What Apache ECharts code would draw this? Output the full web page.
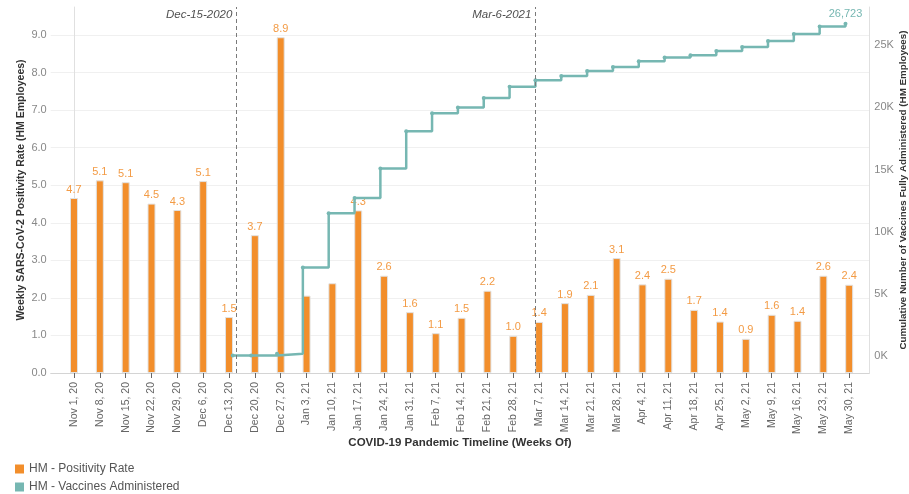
<!DOCTYPE html>
<html><head><meta charset="utf-8">
<script src="https://cdn.jsdelivr.net/npm/echarts@6/dist/echarts.min.js"></script>
<style>html,body{margin:0;padding:0;background:#fff}#c{width:909px;height:494px}</style>
</head><body><div id="c"></div>
<script>
// ---- data ----
const weeks = ['Nov 1, 20','Nov 8, 20','Nov 15, 20','Nov 22, 20','Nov 29, 20','Dec 6, 20','Dec 13, 20',
  'Dec 20, 20','Dec 27, 20','Jan 3, 21','Jan 10, 21','Jan 17, 21','Jan 24, 21','Jan 31, 21','Feb 7, 21',
  'Feb 14, 21','Feb 21, 21','Feb 28, 21','Mar 7, 21','Mar 14, 21','Mar 21, 21','Mar 28, 21','Apr 4, 21',
  'Apr 11, 21','Apr 18, 21','Apr 25, 21','May 2, 21','May 9, 21','May 16, 21','May 23, 21','May 30, 21'];
const positivity = [4.66,5.13,5.08,4.51,4.34,5.11,1.49,3.67,8.94,2.06,2.39,4.33,2.59,1.62,1.06,
  1.47,2.19,0.99,1.36,1.86,2.08,3.06,2.36,2.51,1.68,1.37,0.91,1.55,1.39,2.59,2.35];
const hiddenBarLabels = ['Jan 3, 21','Jan 10, 21'];
const vaccineDates = ['2020-12-14','2020-12-19','2020-12-26','2021-01-02','2021-01-09','2021-01-16',
  '2021-01-23','2021-01-30','2021-02-06','2021-02-13','2021-02-20','2021-02-27','2021-03-06','2021-03-13',
  '2021-03-20','2021-03-27','2021-04-03','2021-04-10','2021-04-17','2021-04-24','2021-05-01','2021-05-08',
  '2021-05-15','2021-05-22','2021-05-29'];
const vaccineTotals = [30,40,190,7120,11480,12720,15080,18090,19520,20000,20750,21670,22180,22520,
  22930,23250,23710,24010,24190,24540,24860,25350,25910,26500,26723];
const eventDates = ['2020-12-15','2021-03-06'];
const eventLabels = ['Dec-15-2020','Mar-6-2021'];
const leftTicks = [0,1,2,3,4,5,6,7,8,9];
const rightTicks = [0,5000,10000,15000,20000,25000];

// ---- helpers ----
const startMs = Date.UTC(2020,10,1);
const dayOf = s => (Date.parse(s + 'T00:00:00Z') - startMs) / 86400000;
const weekDays = weeks.map((w,i) => i*7);
const FONT = '"Liberation Sans", Arial, sans-serif';
const ORANGE = '#F28E2B', TEAL = '#76B7B2';

const chart = echarts.init(document.getElementById('c'), null, {renderer:'canvas'});
chart.setOption({
  animation:false,
  textStyle:{fontFamily:FONT},
  grid:{left:50.7, right:39.7, top:7, bottom:121, containLabel:false, outerBoundsMode:'none'},
  legend:{
    orient:'vertical', left:10, top:457, height:40, itemWidth:9, itemHeight:9, itemGap:4, icon:'rect',
    data:['HM - Positivity Rate','HM - Vaccines Administered'],
    itemStyle:{borderWidth:0},
    textStyle:{fontSize:12, color:'#555', fontFamily:FONT, lineHeight:14}
  },
  xAxis:{
    type:'value', min:-6.31, max:215.45,
    name:'COVID-19 Pandemic Timeline (Weeks Of)', nameLocation:'middle', nameGap:64, nameMoveOverlap:false,
    nameTextStyle:{fontSize:11.5, fontWeight:'bold', color:'#333'},
    axisLine:{show:true, lineStyle:{color:'#d4d4d4'}},
    axisTick:{show:true, customValues:weekDays, length:5, lineStyle:{color:'#666'}},
    axisLabel:{customValues:weekDays, rotate:90, fontSize:10.5, color:'#666', margin:9,
      formatter:v => weeks[Math.round(v/7)] || ''},
    splitLine:{show:false}
  },
  yAxis:[{
    type:'value', min:0, max:9.745, interval:1,
    name:'Weekly SARS-CoV-2 Positivity Rate (HM Employees)', nameLocation:'middle', nameGap:24, nameRotate:90,
    nameMoveOverlap:false,
    nameTextStyle:{fontSize:10.5, fontWeight:'bold', color:'#333'},
    axisLine:{show:true, lineStyle:{color:'#e0e0e0'}},
    axisTick:{show:false},
    axisLabel:{customValues:leftTicks, fontSize:11, color:'#888', margin:4, formatter:v => v.toFixed(1)},
    splitLine:{show:true, showMinLine:false, showMaxLine:false, lineStyle:{color:'#f0f0f0'}}
  },{
    type:'value', min:-1368, max:28077, position:'right',
    name:'Cumulative Number of Vaccines Fully Administered (HM Employees)', nameLocation:'middle', nameGap:29, nameRotate:90,
    nameMoveOverlap:false,
    nameTextStyle:{fontSize:9.8, fontWeight:'bold', color:'#333'},
    axisLine:{show:true, lineStyle:{color:'#e0e0e0'}},
    axisTick:{show:false},
    axisLabel:{customValues:rightTicks, fontSize:11, color:'#888', margin:5, formatter:v => (v/1000)+'K'},
    splitLine:{show:false}
  }],
  series:[{
    name:'HM - Positivity Rate', type:'bar', color:ORANGE, barWidth:8, z:2,
    itemStyle:{color:ORANGE, borderColor:'#e2e2e2', borderWidth:1},
    label:{show:true, position:'top', distance:3, fontSize:11, color:'#F39B45',
      formatter:p => p.value[1].toFixed(1)},
    data:weeks.map((w,i) => ({value:[weekDays[i], positivity[i]], label:{show:!hiddenBarLabels.includes(w)}}))
  },{
    name:'HM - Vaccines Administered', type:'line', yAxisIndex:1, step:'end', color:TEAL, z:3,
    symbol:'circle', symbolSize:4, showAllSymbol:true,
    lineStyle:{color:TEAL, width:2.5}, itemStyle:{color:TEAL},
    data:vaccineDates.map((d,i) => ({
      value:[dayOf(d), vaccineTotals[i]],
      label:{show:i === vaccineTotals.length-1, position:'top', distance:2, fontSize:11, color:TEAL,
        formatter:p => p.value[1].toLocaleString('en-US')}
    })),
    markLine:{
      silent:true, symbol:'none', animation:false,
      lineStyle:{type:[4,3], color:'#7a7a7a', width:1},
      label:{show:false},
      data:eventDates.map(d => ({xAxis:dayOf(d)}))
    }
  },{
    name:'events', type:'scatter', symbolSize:0, silent:true, z:4,
    label:{show:true, position:'left', distance:4, fontSize:11.5, fontStyle:'italic', color:'#222',
      formatter:p => eventLabels[p.dataIndex]},
    data:eventDates.map(d => [dayOf(d), 9.53])
  }]
});
</script></body></html>
